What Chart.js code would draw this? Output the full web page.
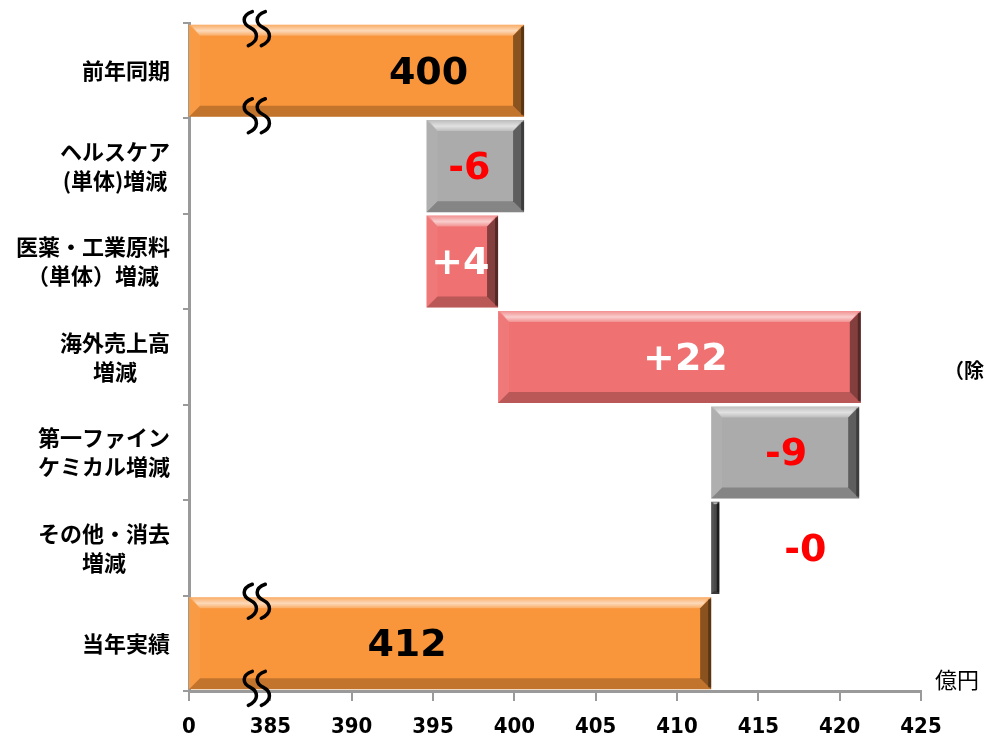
<!DOCTYPE html>
<html><head><meta charset="utf-8">
<script src="https://cdn.jsdelivr.net/npm/chart.js@4/dist/chart.umd.min.js"></script>
<style>html,body{margin:0;padding:0;background:#fff;}#wrap{width:987px;height:745px;position:relative;}</style>
</head><body><div id="wrap"><canvas id="c" width="987" height="745"></canvas></div>
<script>
// ---- data ----
const categories = ['前年同期', ['ヘルスケア','(単体)増減'], ['医薬・工業原料','（単体）増減'], ['海外売上高','増減'], ['第一ファイン','ケミカル増減'], ['その他・消去','増減'], '当年実績'];
const barStart = [380, 394.6, 394.6, 399.0, 412.1, 412.1, 380];
const barEnd   = [400.6, 400.6, 399.0, 421.3, 421.2, 412.6, 412.1];
const valueLabels = ['400', '-6', '+4', '+22', '-9', '-0', '412'];
const xTickValues = [380, 385, 390, 395, 400, 405, 410, 415, 420, 425];
const xTickLabels = ['0', '385', '390', '395', '400', '405', '410', '415', '420', '425'];
const unitLabel = '億円';
const sideNote = '（除';

// ---- styles ----
const barColors = ['#F9953A', '#ABABAB', '#EF7171', '#EF7171', '#ABABAB', '#4A4A4A', '#F9953A'];
const labelColors = ['#000000', '#FF0000', '#FFFFFF', '#FFFFFF', '#FF0000', '#FF0000', '#000000'];
const labelDx = [72, -6, -2, 6, 1, 86, -43];
const breakValue = 384.2;

const floating = barStart.map((s, i) => [s, barEnd[i]]);

const bevelPlugin = {
  id: 'bevel',
  afterDatasetsDraw(chart) {
    const ctx = chart.ctx;
    const meta = chart.getDatasetMeta(0);
    meta.data.forEach((el) => {
      const p = el.getProps(['x', 'base', 'y', 'height'], true);
      const L = Math.min(p.x, p.base), R = Math.max(p.x, p.base);
      const T = p.y - p.height / 2, B = p.y + p.height / 2;
      const w = R - L, h = B - T;
      const b = Math.max(1, Math.min(11, w / 3, h / 4));
      ctx.save();
      const poly = (pts, fill) => { ctx.beginPath(); ctx.moveTo(pts[0][0], pts[0][1]); for (let k = 1; k < pts.length; k++) ctx.lineTo(pts[k][0], pts[k][1]); ctx.closePath(); ctx.fillStyle = fill; ctx.fill(); };
      poly([[L, T], [R, T], [R - b, T + b], [L + b, T + b]], 'rgba(255,255,255,0.22)');
      poly([[L, T], [L + b, T + b], [L + b, B - b], [L, B]], 'rgba(255,255,255,0.06)');
      poly([[L, B], [L + b, B - b], [R - b, B - b], [R, B]], 'rgba(0,0,0,0.22)');
      poly([[R, T], [R, B], [R - b, B - b], [R - b, T + b]], 'rgba(0,0,0,0.45)');
      // bright highlight streak in the top bevel
      const g = ctx.createLinearGradient(0, T, 0, T + b);
      g.addColorStop(0, 'rgba(255,255,255,0)');
      g.addColorStop(0.55, 'rgba(255,255,255,0.55)');
      g.addColorStop(1, 'rgba(255,255,255,0)');
      ctx.fillStyle = g;
      ctx.beginPath();
      ctx.moveTo(L + 2, T); ctx.lineTo(R - 2, T); ctx.lineTo(R - b, T + b); ctx.lineTo(L + b, T + b); ctx.closePath();
      ctx.fill();
      // dark right edge line
      ctx.fillStyle = 'rgba(0,0,0,0.35)';
      ctx.fillRect(R - Math.min(3, w / 4), T + 2, Math.min(3, w / 4), h - 4);
      ctx.restore();
    });
  }
};

const overlayPlugin = {
  id: 'overlay',
  afterDraw(chart) {
    const ctx = chart.ctx;
    const xs = chart.scales.x, ys = chart.scales.y;
    const meta = chart.getDatasetMeta(0);
    ctx.save();
    // value labels
    ctx.textAlign = 'center';
    ctx.textBaseline = 'middle';
    ctx.font = 'bold 38px "DejaVu Sans"';
    meta.data.forEach((el, i) => {
      const p = el.getProps(['x', 'base', 'y'], true);
      let cx = (p.x + p.base) / 2 + labelDx[i];
      if (i === 5) cx = Math.max(p.x, p.base) + labelDx[i];
      ctx.fillStyle = labelColors[i];
      ctx.fillText(valueLabels[i], cx, p.y + 3);
    });
    // axis break squiggles on total bars
    const bx = xs.getPixelForValue(breakValue);
    const squiggle = (cx, cy) => {
      ctx.strokeStyle = '#000';
      ctx.lineWidth = 3.5;
      ctx.lineCap = 'round';
      [-7, 6].forEach(dx => {
        const x0 = cx + dx;
        ctx.beginPath();
        ctx.moveTo(x0 + 2, cy - 17);
        ctx.bezierCurveTo(x0 - 9, cy - 13, x0 - 8, cy - 5, x0, cy - 1);
        ctx.bezierCurveTo(x0 + 8, cy + 3, x0 + 9, cy + 12, x0 - 2, cy + 17);
        ctx.stroke();
      });
    };
    [0, 6].forEach(i => {
      const p = meta.data[i].getProps(['y', 'height'], true);
      squiggle(bx, p.y - p.height / 2 + 4);
      squiggle(bx, p.y + p.height / 2 - 1);
    });
    // category labels (lines centered, block right-aligned)
    ctx.fillStyle = '#000';
    ctx.font = 'bold 22px "Noto Sans CJK JP"';
    const rightEdge = xs.left - 19;
    categories.forEach((lab, i) => {
      const lines = Array.isArray(lab) ? lab : [lab];
      const maxW = Math.max(...lines.map(t => ctx.measureText(t).width));
      const cx = rightEdge - maxW / 2;
      const cy = ys.getPixelForValue(i);
      const lh = 29;
      lines.forEach((t, k) => {
        ctx.fillText(t, cx, cy + (k - (lines.length - 1) / 2) * lh);
      });
    });
    // unit and side note
    ctx.textAlign = 'left';
    ctx.font = '22px "Noto Sans CJK JP"';
    ctx.fillText(unitLabel, xs.right + 14, xs.top - 11);
    ctx.font = 'bold 20px "Noto Sans CJK JP"';
    ctx.fillText(sideNote, 944, ys.getPixelForValue(3) + 13);
    ctx.restore();
  }
};

new Chart(document.getElementById('c'), {
  type: 'bar',
  data: {
    labels: categories,
    datasets: [{
      data: floating,
      backgroundColor: barColors,
      borderWidth: 0,
      borderSkipped: false,
      barPercentage: 0.965,
      categoryPercentage: 1.0
    }]
  },
  options: {
    indexAxis: 'y',
    responsive: false,
    animation: false,
    devicePixelRatio: 1,
    layout: { padding: { top: 23, right: 66, left: 0, bottom: 0 } },
    plugins: { legend: { display: false }, tooltip: { enabled: false } },
    scales: {
      x: {
        type: 'linear',
        min: 380, max: 425,
        afterBuildTicks(scale) { scale.ticks = xTickValues.map(v => ({ value: v })); },
        afterFit(scale) { scale.height = 54; },
        ticks: {
          callback: (v) => xTickLabels[xTickValues.indexOf(v)],
          color: '#000',
          font: { family: '"DejaVu Sans Condensed", "DejaVu Sans"', weight: 'bold', size: 22 },
          padding: 13,
          maxRotation: 0
        },
        grid: { drawOnChartArea: false, color: '#9A9A9A', lineWidth: 2, tickLength: 10 },
        border: { color: '#9A9A9A', width: 3 }
      },
      y: {
        type: 'category',
        offset: true,
        afterFit(scale) { scale.width = 189; },
        ticks: { display: false },
        grid: { offset: true, drawOnChartArea: false, color: '#9A9A9A', lineWidth: 2, tickLength: 6 },
        border: { color: '#9A9A9A', width: 3 }
      }
    }
  },
  plugins: [bevelPlugin, overlayPlugin]
});
</script>
</body></html>
